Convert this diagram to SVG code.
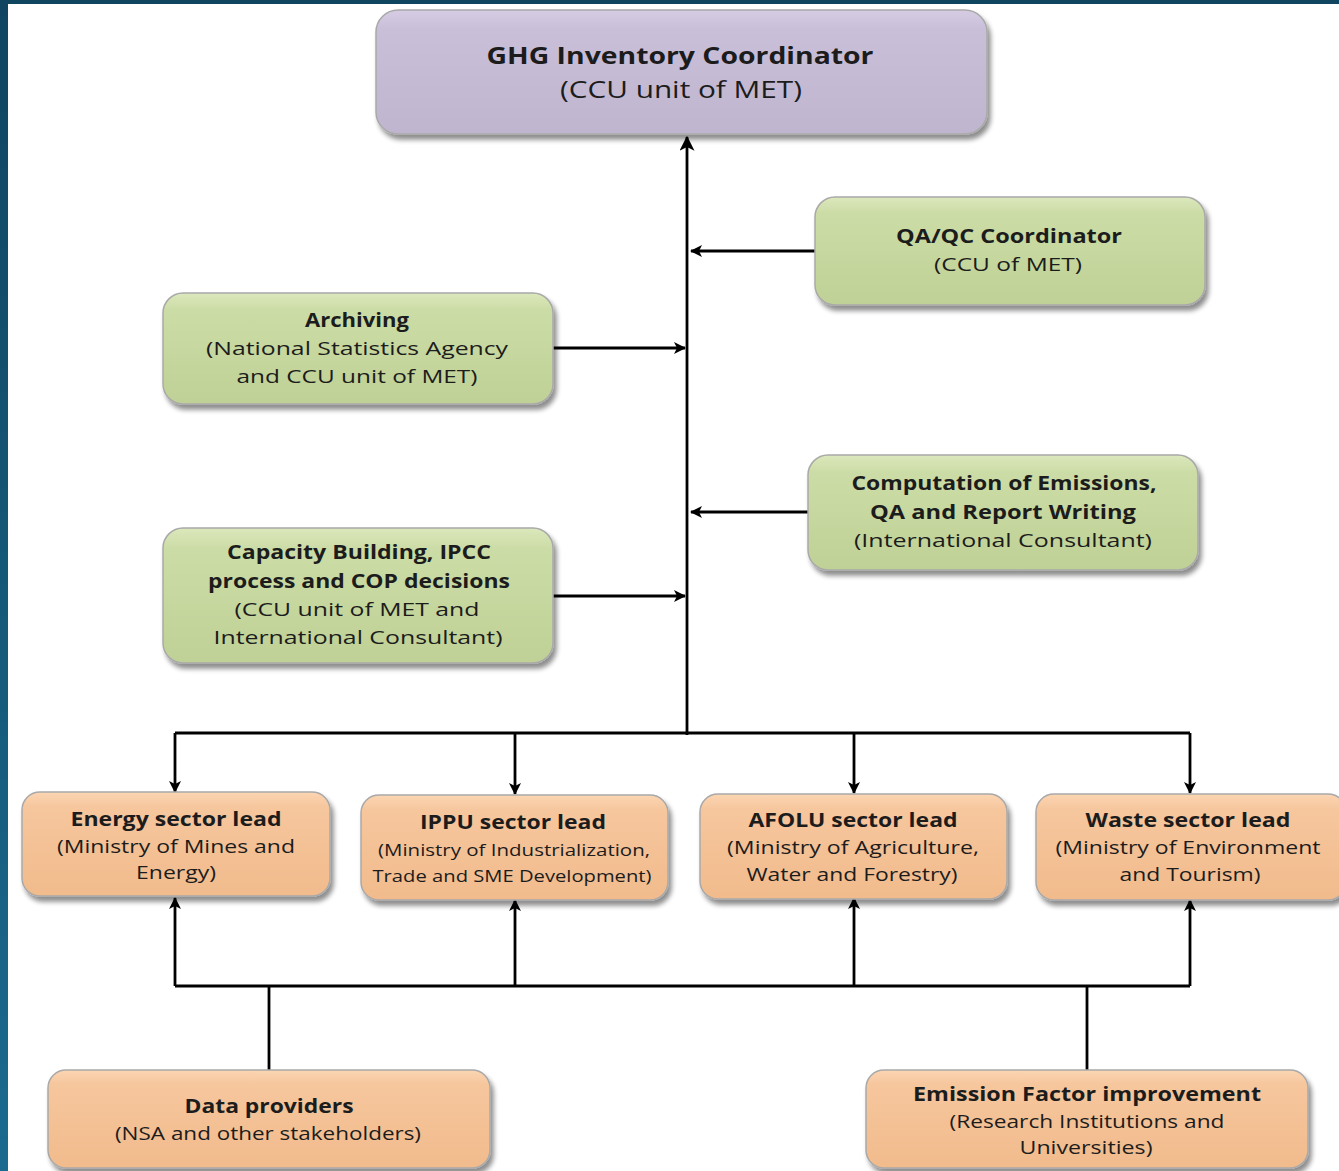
<svg xmlns="http://www.w3.org/2000/svg" width="1339" height="1171" viewBox="0 0 1339 1171">
<defs>
<linearGradient id="bgL" x1="0" y1="0" x2="0" y2="1"><stop offset="0" stop-color="#0f4560"/><stop offset="1" stop-color="#1b6a8f"/></linearGradient>
<linearGradient id="gP" x1="0" y1="0" x2="0" y2="1"><stop offset="0" stop-color="#d6cde4"/><stop offset="0.15" stop-color="#c9bfd9"/><stop offset="1" stop-color="#c0b5cf"/></linearGradient>
<linearGradient id="gG" x1="0" y1="0" x2="0" y2="1"><stop offset="0" stop-color="#dbe8bc"/><stop offset="0.15" stop-color="#ccdca6"/><stop offset="1" stop-color="#bfd196"/></linearGradient>
<linearGradient id="gO" x1="0" y1="0" x2="0" y2="1"><stop offset="0" stop-color="#fbd5b2"/><stop offset="0.15" stop-color="#f6c69d"/><stop offset="1" stop-color="#f1bb8c"/></linearGradient>
<filter id="sh" x="-5%" y="-10%" width="115%" height="130%"><feGaussianBlur in="SourceAlpha" stdDeviation="2.5"/><feOffset dx="3" dy="5" result="b"/><feComponentTransfer><feFuncA type="linear" slope="0.45"/></feComponentTransfer><feMerge><feMergeNode/><feMergeNode in="SourceGraphic"/></feMerge></filter>
<marker id="ah" viewBox="0 0 12 12" refX="11" refY="6" markerWidth="12" markerHeight="12" markerUnits="userSpaceOnUse" orient="auto"><path d="M0,0 L12,6 L0,12 L3,6 z" fill="#000"/></marker>
<marker id="ahL" viewBox="0 0 12 12" refX="11" refY="6" markerWidth="15" markerHeight="15" markerUnits="userSpaceOnUse" orient="auto"><path d="M0,0 L12,6 L0,12 L3,6 z" fill="#000"/></marker>
</defs>
<style>
.box{stroke:#a9a9a9;stroke-width:1.5;filter:url(#sh)}
.p{fill:url(#gP)}.g{fill:url(#gG)}.o{fill:url(#gO)}
text{font-family:"Open Sans","Liberation Sans",Arial,sans-serif;fill:#1c1c1c;text-anchor:middle}
.b{font-weight:bold;font-size:20px}
.r{font-size:19px}
.con{fill:none;stroke:#000;stroke-width:2.8}
</style>
<rect x="0" y="0" width="1339" height="1171" fill="#fff"/>
<rect x="0" y="0" width="8" height="1171" fill="url(#bgL)"/>
<rect x="0" y="0" width="1339" height="4" fill="#10455f"/>

<g id="connectors">
<path class="con" d="M687,735 V137" stroke-width="4" marker-end="url(#ahL)"/>
<path class="con" d="M815,251 H691" marker-end="url(#ah)"/>
<path class="con" d="M553,348 H685" marker-end="url(#ah)"/>
<path class="con" d="M808,512 H691" marker-end="url(#ah)"/>
<path class="con" d="M553,596 H685" marker-end="url(#ah)"/>
<path class="con" d="M175,733 H1190"/>
<path class="con" d="M175,733 V792" marker-end="url(#ah)"/>
<path class="con" d="M515,733 V794" marker-end="url(#ah)"/>
<path class="con" d="M854,733 V793" marker-end="url(#ah)"/>
<path class="con" d="M1190,733 V793" marker-end="url(#ah)"/>
<path class="con" d="M175,986 H1190"/>
<path class="con" d="M175,986 V898" marker-end="url(#ah)"/>
<path class="con" d="M515,986 V900" stroke-width="3.5" marker-end="url(#ah)"/>
<path class="con" d="M854,986 V898" marker-end="url(#ah)"/>
<path class="con" d="M1190,986 V900" marker-end="url(#ah)"/>
<path class="con" d="M269,1070 V986" stroke-width="3.5"/>
<path class="con" d="M1087,1070 V986" stroke-width="3.5"/>
</g>

<g id="ghg">
<rect class="box p" x="376" y="10" width="611" height="124" rx="22"/>
<text x="680" y="64" font-weight="bold" font-size="23" textLength="387" lengthAdjust="spacingAndGlyphs">GHG Inventory Coordinator</text>
<text x="681" y="98" font-size="23" textLength="242" lengthAdjust="spacingAndGlyphs">(CCU unit of MET)</text>
</g>
<g id="qaqc">
<rect class="box g" x="815" y="197" width="390" height="108" rx="20"/>
<text class="b" x="1009" y="243" textLength="226" lengthAdjust="spacingAndGlyphs">QA/QC Coordinator</text>
<text class="r" x="1008" y="271" textLength="148" lengthAdjust="spacingAndGlyphs">(CCU of MET)</text>
</g>
<g id="archiving">
<rect class="box g" x="163" y="293" width="390" height="111" rx="20"/>
<text class="b" x="357" y="327" textLength="104" lengthAdjust="spacingAndGlyphs">Archiving</text>
<text class="r" x="357" y="355" textLength="302" lengthAdjust="spacingAndGlyphs">(National Statistics Agency</text>
<text class="r" x="357" y="383" textLength="241" lengthAdjust="spacingAndGlyphs">and CCU unit of MET)</text>
</g>
<g id="computation">
<rect class="box g" x="808" y="455" width="390" height="115" rx="20"/>
<text class="b" x="1004" y="490" textLength="305" lengthAdjust="spacingAndGlyphs">Computation of Emissions,</text>
<text class="b" x="1003" y="519" textLength="266" lengthAdjust="spacingAndGlyphs">QA and Report Writing</text>
<text class="r" x="1003" y="547" textLength="298" lengthAdjust="spacingAndGlyphs">(International Consultant)</text>
</g>
<g id="capacity">
<rect class="box g" x="163" y="528" width="390" height="135" rx="20"/>
<text class="b" x="359" y="559" textLength="264" lengthAdjust="spacingAndGlyphs">Capacity Building, IPCC</text>
<text class="b" x="359" y="588" textLength="302" lengthAdjust="spacingAndGlyphs">process and COP decisions</text>
<text class="r" x="357" y="616" textLength="245" lengthAdjust="spacingAndGlyphs">(CCU unit of MET and</text>
<text class="r" x="358" y="644" textLength="289" lengthAdjust="spacingAndGlyphs">International Consultant)</text>
</g>
<g id="energy">
<rect class="box o" x="22" y="792" width="308" height="104" rx="18"/>
<text class="b" x="176" y="826" textLength="211" lengthAdjust="spacingAndGlyphs">Energy sector lead</text>
<text class="r" x="176" y="853" textLength="238" lengthAdjust="spacingAndGlyphs">(Ministry of Mines and</text>
<text class="r" x="176" y="879" textLength="80" lengthAdjust="spacingAndGlyphs">Energy)</text>
</g>
<g id="ippu">
<rect class="box o" x="361" y="795" width="307" height="105" rx="18"/>
<text class="b" x="513" y="829" textLength="186" lengthAdjust="spacingAndGlyphs">IPPU sector lead</text>
<text x="514" y="856" font-size="17" textLength="272" lengthAdjust="spacingAndGlyphs">(Ministry of Industrialization,</text>
<text x="512" y="882" font-size="17" textLength="279" lengthAdjust="spacingAndGlyphs">Trade and SME Development)</text>
</g>
<g id="afolu">
<rect class="box o" x="700" y="794" width="307" height="105" rx="18"/>
<text class="b" x="853" y="827" textLength="209" lengthAdjust="spacingAndGlyphs">AFOLU sector lead</text>
<text class="r" x="853" y="854" textLength="252" lengthAdjust="spacingAndGlyphs">(Ministry of Agriculture,</text>
<text class="r" x="852" y="881" textLength="211" lengthAdjust="spacingAndGlyphs">Water and Forestry)</text>
</g>
<g id="waste">
<rect class="box o" x="1036" y="794" width="310" height="106" rx="18"/>
<text class="b" x="1188" y="827" textLength="205" lengthAdjust="spacingAndGlyphs">Waste sector lead</text>
<text class="r" x="1188" y="854" textLength="265" lengthAdjust="spacingAndGlyphs">(Ministry of Environment</text>
<text class="r" x="1190" y="881" textLength="141" lengthAdjust="spacingAndGlyphs">and Tourism)</text>
</g>
<g id="data">
<rect class="box o" x="48" y="1070" width="442" height="98" rx="18"/>
<text class="b" x="269" y="1113" textLength="169" lengthAdjust="spacingAndGlyphs">Data providers</text>
<text class="r" x="268" y="1140" textLength="306" lengthAdjust="spacingAndGlyphs">(NSA and other stakeholders)</text>
</g>
<g id="emission">
<rect class="box o" x="866" y="1070" width="442" height="98" rx="18"/>
<text class="b" x="1087" y="1101" textLength="348" lengthAdjust="spacingAndGlyphs">Emission Factor improvement</text>
<text class="r" x="1087" y="1128" textLength="275" lengthAdjust="spacingAndGlyphs">(Research Institutions and</text>
<text class="r" x="1086" y="1154" textLength="133" lengthAdjust="spacingAndGlyphs">Universities)</text>
</g>
</svg>
